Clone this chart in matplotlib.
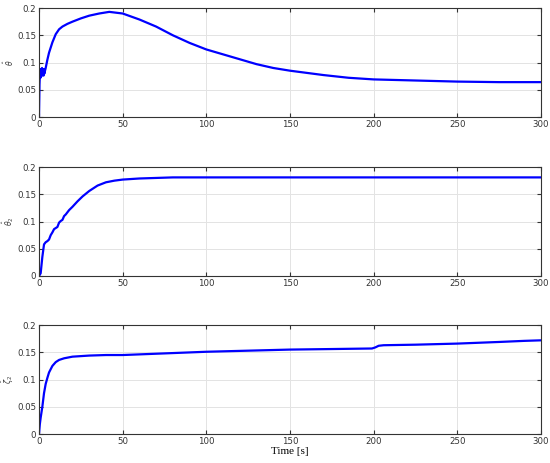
import numpy as np
import matplotlib
matplotlib.use('Agg')
import matplotlib.pyplot as plt

######## DATA ########

t1 = [0, 0.3, 0.6, 0.9, 1.2, 1.5, 1.8, 2.1, 2.4, 2.7, 3.0, 3.3, 3.6, 4, 5, 6, 8, 10, 12, 14,
      17, 20, 25, 30, 36, 42, 50, 60, 70, 80, 90, 100, 110, 120, 130, 140, 150, 160, 170, 185,
      200, 225, 250, 275, 300]
theta = [0, 0.06, 0.082, 0.072, 0.088, 0.075, 0.09, 0.078, 0.086, 0.076, 0.088, 0.08, 0.085, 0.09,
         0.105, 0.118, 0.137, 0.152, 0.161, 0.166, 0.171, 0.175, 0.181, 0.186, 0.190, 0.193, 0.190,
         0.179, 0.166, 0.150, 0.136, 0.124, 0.115, 0.106, 0.097, 0.090, 0.085, 0.081, 0.077, 0.072,
         0.069, 0.067, 0.065, 0.064, 0.064]

t2 = [0, 1, 2, 3, 4, 5, 6, 7, 8, 9, 10, 11, 12, 13, 14, 15, 16, 18, 20, 23, 26, 30, 35, 40, 45,
      50, 60, 70, 80, 100, 150, 200, 250, 300]
theta2 = [0, 0.005, 0.035, 0.058, 0.062, 0.064, 0.067, 0.075, 0.08, 0.086, 0.088, 0.09, 0.098,
          0.101, 0.103, 0.11, 0.113, 0.121, 0.127, 0.137, 0.146, 0.156, 0.166, 0.172, 0.175, 0.177,
          0.179, 0.180, 0.181, 0.181, 0.181, 0.181, 0.181, 0.181]

t3 = [0, 0.5, 1, 2, 3, 4, 5, 6, 8, 10, 12, 15, 20, 30, 40, 50, 75, 100, 125, 150, 175, 199, 201,
      203, 206, 225, 250, 275, 290, 300]
zeta2 = [0, 0.018, 0.03, 0.05, 0.075, 0.092, 0.103, 0.113, 0.125, 0.132, 0.136, 0.139, 0.142,
         0.144, 0.145, 0.145, 0.148, 0.151, 0.153, 0.155, 0.156, 0.157, 0.159, 0.162, 0.163,
         0.164, 0.166, 0.169, 0.171, 0.172]

series = [(t1, theta, r'$\hat{\theta}$'),
          (t2, theta2, r'$\hat{\theta}_2$'),
          (t3, zeta2, r'$\hat{\zeta}_2$')]

xticks = [0, 50, 100, 150, 200, 250, 300]
yticks = [0, 0.05, 0.1, 0.15, 0.2]
ytick_labels = ['0', '0.05', '0.1', '0.15', '0.2']

######## PLOT ########

fig = plt.figure(figsize=(5.5, 4.63), dpi=100)
bottoms = [0.7473, 0.4039, 0.0626]
h = 0.2353

for (t, y, lab), b in zip(series, bottoms):
    ax = fig.add_axes([0.0709, b, 0.9127, h])
    ax.plot(t, y, color='#0000ff', lw=1.6)
    ax.set_xlim(0, 300)
    ax.set_ylim(0, 0.2)
    ax.set_xticks(xticks)
    ax.set_yticks(yticks)
    ax.set_yticklabels(ytick_labels)
    ax.grid(True, color='#e3e3e3', lw=0.7)
    ax.set_axisbelow(True)
    ax.tick_params(direction='in', length=3, labelsize=6.2, colors='#333333', pad=2,
                   top=True, right=True)
    for sp in ax.spines.values():
        sp.set_color('#333333')
        sp.set_linewidth(0.8)
    ax.set_ylabel(lab, fontsize=5.5, color='#404040')
    ax.yaxis.set_label_coords(-0.046, 0.5)

ax.set_xlabel('Time [s]', family='Liberation Serif', fontsize=8, labelpad=1)

plt.savefig('out.png')
